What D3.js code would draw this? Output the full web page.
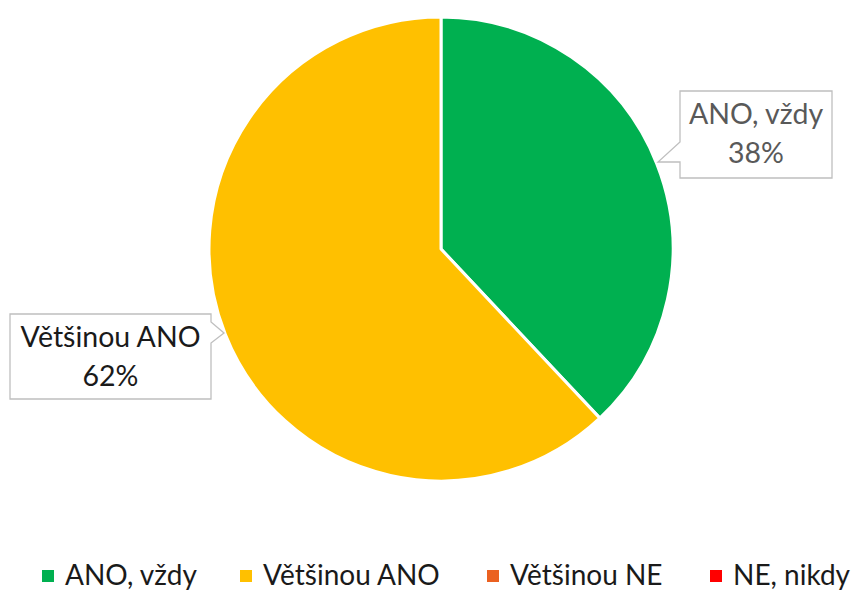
<!DOCTYPE html>
<html>
<head>
<meta charset="utf-8">
<script src="https://cdn.jsdelivr.net/npm/d3@7"></script>
<style>
    html, body { margin: 0; padding: 0; background: #fff; }
    svg { display: block; font-family: Lato, "Open Sans", sans-serif; }
</style>
</head>
<body>
<div id="chart"></div>
<script>
const CATEGORIES = ['ANO, vždy', 'Většinou ANO', 'Většinou NE', 'NE, nikdy'];
const VALUES = [38, 62, 0, 0];
const COLORS = ['#00B050', '#FFC000', '#EB6120', '#FF0000'];

const width = 857;
const height = 590;
const center = { x: 441, y: 249 };
const radius = 232;

const svg = d3.select('#chart').append('svg')
    .attr('width', width)
    .attr('height', height);

const color = d3.scaleOrdinal().domain(CATEGORIES).range(COLORS);

const slices = d3.pie()
    .sort(null)
    .value((d) => d.value)(CATEGORIES.map((name, i) => ({ name, value: VALUES[i] })));

const arc = d3.arc().innerRadius(0).outerRadius(radius);

const pieGroup = svg.append('g')
    .attr('transform', `translate(${center.x},${center.y})`);

pieGroup.selectAll('path')
    .data(slices.filter((s) => s.value > 0))
    .enter()
    .append('path')
    .attr('d', arc)
    .attr('fill', (s) => color(s.data.name))
    .attr('stroke', '#fff')
    .attr('stroke-width', 3)
    .attr('stroke-linejoin', 'round');

// callout labels (box with a small pointer toward the slice)
const callouts = [
    { index: 0, x: 680, y: 91, w: 152, h: 87, side: 'left', py1: 142, py2: 162, tip: [658, 162], textColor: '#595959' },
    { index: 1, x: 10, y: 314, w: 201, h: 85, side: 'right', py1: 322, py2: 343, tip: [224, 333], textColor: '#1a1a1a' }
];

callouts.forEach((c) => {
    const s = slices[c.index];
    const pct = Math.round(100 * s.value / d3.sum(VALUES)) + '%';
    let pts;
    if (c.side === 'left') {
        pts = [[c.x, c.y], [c.x + c.w, c.y], [c.x + c.w, c.y + c.h], [c.x, c.y + c.h],
            [c.x, c.py2], c.tip, [c.x, c.py1]];
    } else {
        const r = c.x + c.w;
        pts = [[c.x, c.y], [r, c.y], [r, c.py1], c.tip, [r, c.py2], [r, c.y + c.h], [c.x, c.y + c.h]];
    }
    svg.append('path')
        .attr('d', d3.line()(pts) + 'Z')
        .attr('fill', '#fff')
        .attr('stroke', '#BFBFBF')
        .attr('stroke-width', 1.3);

    const text = svg.append('text')
        .attr('text-anchor', 'middle')
        .attr('fill', c.textColor)
        .attr('font-size', 28.5);
    text.append('tspan')
        .attr('x', c.x + c.w / 2)
        .attr('y', c.y + 33)
        .text(s.data.name);
    text.append('tspan')
        .attr('x', c.x + c.w / 2)
        .attr('y', c.y + 72)
        .text(pct);
});

// legend
const legendX = [42, 240, 487, 710];
const legend = svg.append('g');
const items = legend.selectAll('g')
    .data(CATEGORIES)
    .enter()
    .append('g')
    .attr('transform', (d, i) => `translate(${legendX[i]},585)`);

items.append('rect')
    .attr('x', 0)
    .attr('y', -15)
    .attr('width', 12)
    .attr('height', 12)
    .attr('fill', (d) => color(d));

items.append('text')
    .attr('x', 23)
    .attr('y', 0)
    .attr('font-size', 28)
    .attr('fill', '#1a1a1a')
    .text((d) => d);
</script>
</body>
</html>
